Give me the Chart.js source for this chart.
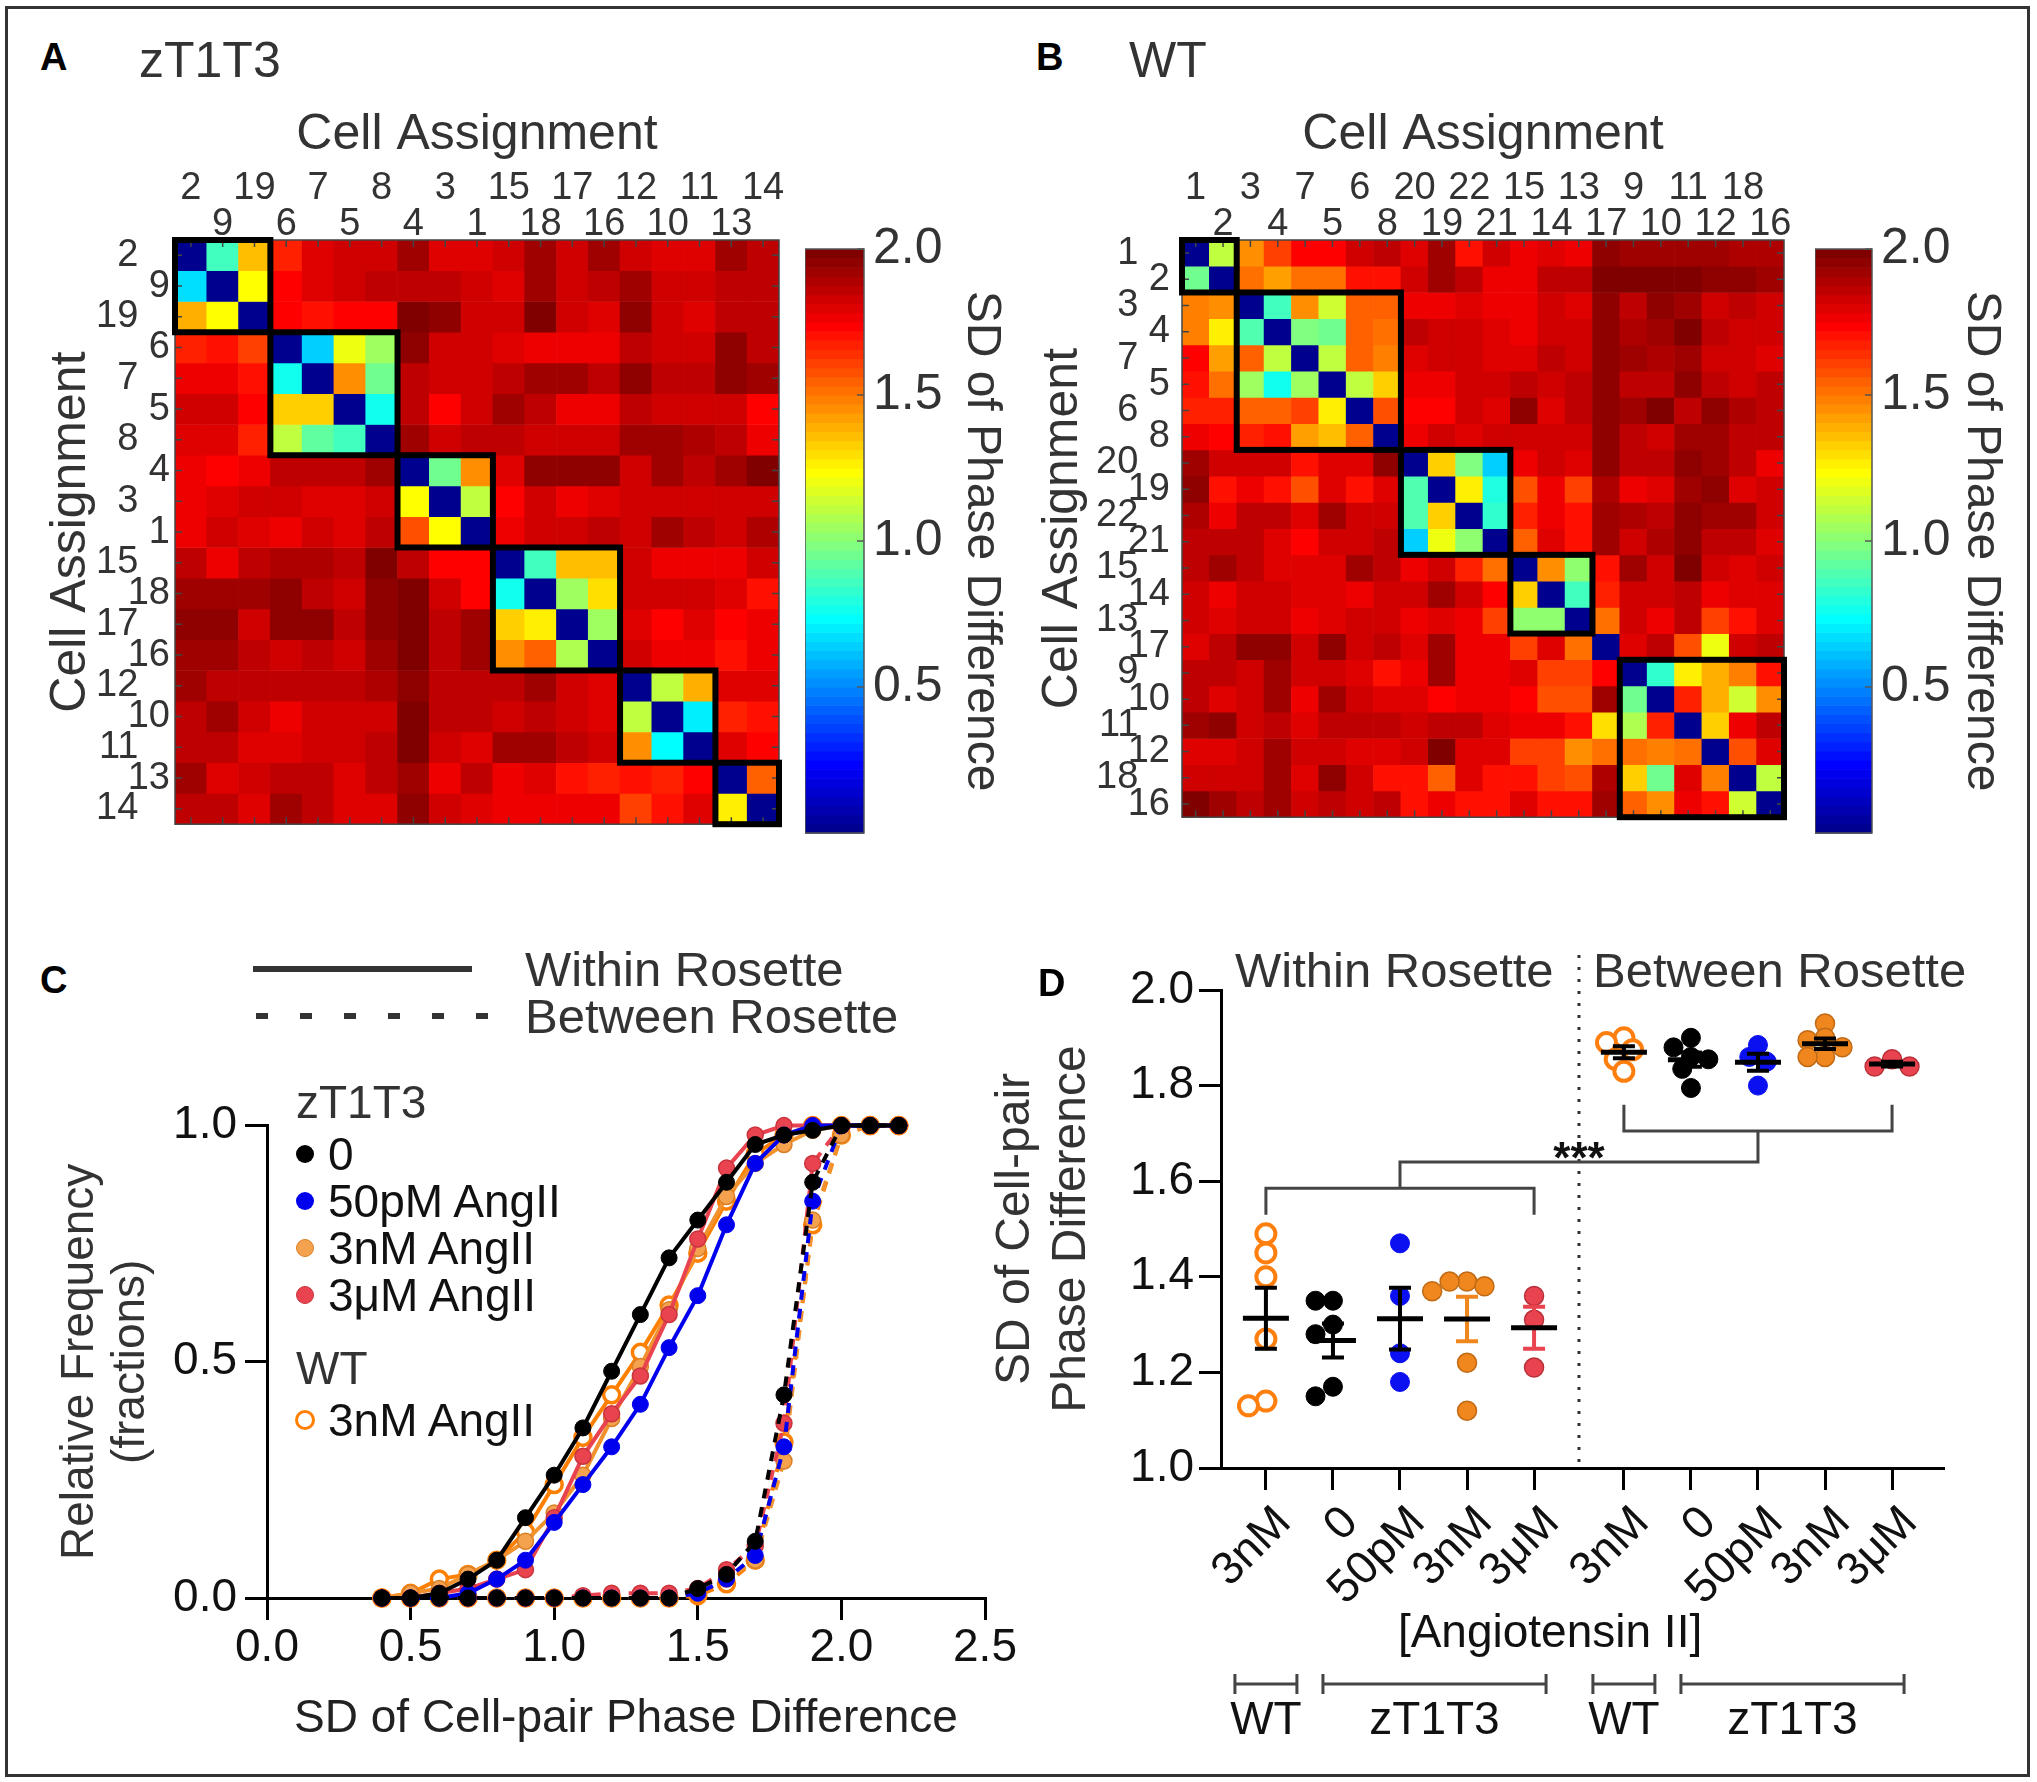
<!DOCTYPE html>
<html>
<head>
<meta charset="utf-8">
<title>SD of phase difference</title>
<script src="https://cdn.jsdelivr.net/npm/chart.js@4.4.1/dist/chart.umd.min.js"></script>
<style>
  html, body { margin: 0; padding: 0; background: #fff; }
  body { position: relative; width: 2037px; height: 1782px; overflow: hidden;
         font-family: "Liberation Sans", Arial, sans-serif; color: #2b2b2b; }
  #frame { position: absolute; left: 5px; top: 6px; width: 2019px; height: 1765px; border: 3px solid #333; }
  canvas { position: absolute; }
  .t { position: absolute; white-space: nowrap; line-height: 1; transform: translateY(-50%); }
  .b { font-weight: bold; color: #000; }
</style>
</head>
<body>
<div id="frame"></div>
<script>
// ---------------- data ----------------
// panel A, zT1T3 : cell order and SD matrix (rows = cells, top to bottom)
const cellsA = ['2','9','19','6','7','5','8','4','3','1','15','18','17','16','12','10','11','13','14'];
const blocksA = [3, 4, 3, 4, 3, 2];
const sdA = [
  [0.03,0.85,1.35,1.66,1.79,1.82,1.84,1.92,1.79,1.79,1.82,1.92,1.84,1.91,1.82,1.79,1.79,1.92,1.86],
  [0.66,0.03,1.22,1.72,1.80,1.84,1.87,1.86,1.86,1.83,1.79,1.92,1.84,1.87,1.92,1.83,1.84,1.87,1.86],
  [1.39,1.22,0.03,1.72,1.69,1.72,1.72,2.00,1.94,1.84,1.83,1.97,1.84,1.80,1.94,1.83,1.79,1.86,1.86],
  [1.66,1.69,1.62,0.03,0.65,1.20,1.06,1.94,1.83,1.84,1.80,1.77,1.77,1.77,1.86,1.83,1.84,1.94,1.87],
  [1.75,1.75,1.69,0.78,0.03,1.44,0.94,1.86,1.83,1.84,1.87,1.92,1.92,1.87,1.94,1.87,1.86,1.94,1.92],
  [1.83,1.83,1.72,1.32,1.32,0.03,0.78,1.87,1.72,1.84,1.92,1.87,1.75,1.75,1.86,1.84,1.83,1.84,1.72],
  [1.79,1.79,1.66,1.12,0.93,0.85,0.03,1.92,1.83,1.87,1.87,1.83,1.84,1.84,1.93,1.93,1.90,1.86,1.75],
  [1.77,1.72,1.77,1.87,1.87,1.86,1.92,0.03,0.94,1.44,1.79,1.94,1.94,1.94,1.83,1.93,1.87,1.92,1.97],
  [1.77,1.80,1.83,1.83,1.80,1.79,1.84,1.22,0.03,1.12,1.72,1.84,1.75,1.79,1.84,1.83,1.83,1.84,1.84],
  [1.77,1.83,1.79,1.77,1.84,1.79,1.86,1.59,1.22,0.03,1.75,1.83,1.84,1.87,1.84,1.92,1.87,1.83,1.90],
  [1.86,1.77,1.86,1.90,1.90,1.87,1.97,1.87,1.72,1.72,0.03,0.87,1.37,1.35,1.83,1.75,1.75,1.77,1.83],
  [1.92,1.92,1.92,1.94,1.86,1.84,1.94,1.97,1.84,1.72,0.78,0.03,1.06,1.30,1.84,1.83,1.83,1.79,1.69],
  [1.94,1.94,1.83,1.94,1.94,1.86,1.94,1.99,1.86,1.92,1.33,1.27,0.03,1.06,1.79,1.72,1.80,1.72,1.75],
  [1.92,1.92,1.87,1.84,1.87,1.84,1.92,1.97,1.87,1.92,1.44,1.56,1.09,0.03,1.84,1.75,1.77,1.69,1.75],
  [1.92,1.87,1.87,1.86,1.86,1.87,1.90,1.94,1.87,1.86,1.86,1.93,1.84,1.80,0.03,1.12,1.39,1.79,1.79],
  [1.86,1.93,1.84,1.77,1.83,1.84,1.84,1.97,1.86,1.86,1.84,1.86,1.83,1.80,1.12,0.03,0.70,1.66,1.69],
  [1.86,1.86,1.80,1.80,1.83,1.84,1.86,1.97,1.83,1.80,1.92,1.92,1.87,1.83,1.44,0.72,0.03,1.79,1.72],
  [1.92,1.80,1.84,1.86,1.87,1.80,1.86,1.92,1.77,1.86,1.77,1.79,1.69,1.66,1.69,1.66,1.72,0.03,1.56],
  [1.86,1.86,1.80,1.92,1.87,1.80,1.80,1.94,1.83,1.79,1.77,1.75,1.75,1.75,1.62,1.69,1.79,1.27,0.03]
];

// panel B, WT
const cellsB = ['1','2','3','4','7','5','6','8','20','19','22','21','15','14','13','17','9','10','11','12','18','16'];
const blocksB = [2, 6, 4, 3, 1, 6];
const sdB = [
  [0.03,1.10,1.44,1.62,1.72,1.72,1.84,1.87,1.80,1.92,1.69,1.84,1.77,1.79,1.75,1.94,1.92,1.92,1.92,1.92,1.90,1.90],
  [0.94,0.03,1.53,1.41,1.53,1.50,1.69,1.69,1.83,1.92,1.87,1.77,1.75,1.87,1.87,1.97,1.97,1.97,1.97,1.94,1.94,1.93],
  [1.47,1.44,0.03,0.87,1.44,1.15,1.56,1.56,1.77,1.77,1.80,1.75,1.75,1.83,1.79,1.94,1.86,1.94,1.92,1.84,1.87,1.84],
  [1.47,1.25,0.90,0.03,0.97,0.94,1.56,1.53,1.87,1.84,1.83,1.79,1.75,1.83,1.83,1.94,1.90,1.92,1.99,1.86,1.84,1.84],
  [1.72,1.41,1.56,1.12,0.03,1.12,1.56,1.47,1.80,1.83,1.83,1.79,1.80,1.86,1.83,1.94,1.93,1.90,1.93,1.84,1.84,1.80],
  [1.69,1.50,1.06,0.78,1.06,0.03,1.12,1.33,1.77,1.77,1.84,1.84,1.87,1.84,1.86,1.94,1.87,1.86,1.94,1.87,1.83,1.86],
  [1.66,1.66,1.56,1.56,1.62,1.27,0.03,1.59,1.72,1.72,1.84,1.80,1.94,1.80,1.86,1.94,1.92,1.97,1.87,1.94,1.90,1.86],
  [1.77,1.72,1.66,1.69,1.41,1.37,1.56,0.03,1.75,1.84,1.80,1.83,1.84,1.84,1.84,1.94,1.86,1.84,1.93,1.92,1.86,1.86],
  [1.92,1.84,1.84,1.83,1.69,1.80,1.80,1.94,0.03,1.33,0.97,0.63,1.75,1.84,1.80,1.94,1.86,1.86,1.94,1.93,1.86,1.75],
  [1.94,1.69,1.75,1.69,1.59,1.80,1.69,1.79,0.90,0.03,1.27,0.81,1.59,1.75,1.62,1.90,1.75,1.80,1.93,1.94,1.79,1.83],
  [1.90,1.75,1.87,1.87,1.79,1.92,1.84,1.84,0.90,1.33,0.03,0.84,1.66,1.75,1.69,1.92,1.90,1.87,1.94,1.92,1.92,1.84],
  [1.87,1.87,1.87,1.80,1.72,1.84,1.84,1.86,0.63,1.20,1.00,0.03,1.56,1.79,1.69,1.92,1.83,1.90,1.94,1.87,1.87,1.80],
  [1.87,1.92,1.87,1.80,1.80,1.80,1.92,1.87,1.75,1.83,1.66,1.53,0.03,1.44,1.00,1.69,1.93,1.84,1.99,1.84,1.79,1.84],
  [1.84,1.75,1.84,1.84,1.79,1.80,1.77,1.84,1.83,1.92,1.83,1.72,1.32,0.03,0.87,1.66,1.84,1.83,1.87,1.77,1.79,1.80],
  [1.84,1.79,1.83,1.83,1.75,1.80,1.84,1.84,1.75,1.80,1.75,1.62,1.03,1.03,0.03,1.50,1.84,1.75,1.87,1.62,1.69,1.80],
  [1.80,1.86,1.94,1.94,1.83,1.94,1.84,1.87,1.80,1.92,1.77,1.75,1.62,1.79,1.53,0.03,1.80,1.86,1.59,1.20,1.84,1.86],
  [1.87,1.87,1.84,1.93,1.83,1.84,1.79,1.69,1.75,1.92,1.75,1.77,1.79,1.62,1.62,1.72,0.03,0.84,1.27,1.39,1.47,1.69],
  [1.86,1.79,1.84,1.92,1.75,1.92,1.84,1.79,1.79,1.72,1.75,1.77,1.72,1.59,1.59,1.92,0.94,0.03,1.66,1.39,1.15,1.44],
  [1.92,1.94,1.84,1.87,1.79,1.86,1.87,1.87,1.84,1.86,1.86,1.80,1.75,1.75,1.69,1.30,1.09,1.66,0.03,1.33,1.75,1.87],
  [1.80,1.80,1.84,1.92,1.84,1.84,1.79,1.79,1.83,1.97,1.80,1.79,1.62,1.62,1.44,1.53,1.50,1.47,1.50,0.03,1.59,1.79],
  [1.83,1.83,1.84,1.92,1.80,1.94,1.84,1.69,1.69,1.56,1.79,1.69,1.69,1.62,1.59,1.90,1.32,0.94,1.79,1.47,0.03,1.12],
  [1.97,1.93,1.86,1.92,1.84,1.87,1.84,1.87,1.69,1.75,1.69,1.69,1.79,1.69,1.69,1.92,1.56,1.44,1.75,1.69,1.15,0.03]
];
const colorbarTicks = [0.5, 1.0, 1.5, 2.0];

// panel C : cumulative relative frequency
const sdBins = [0.4,0.5,0.6,0.7,0.8,0.9,1.0,1.1,1.2,1.3,1.4,1.5,1.6,1.7,1.8,1.9,2.0,2.1,2.2];
const within0    = [0,0,0.01,0.04,0.08,0.17,0.26,0.36,0.48,0.60,0.72,0.80,0.88,0.96,0.98,0.99,1,1,1];
const within50pM = [0,0,0,0.01,0.04,0.08,0.16,0.24,0.32,0.41,0.53,0.64,0.79,0.92,0.98,1,1,1,1];
const within3nM  = [0,0.01,0.02,0.05,0.08,0.12,0.18,0.26,0.38,0.49,0.61,0.74,0.85,0.92,0.96,0.99,1,1,1];
const within3uM  = [0,0,0.01,0.02,0.04,0.06,0.17,0.30,0.39,0.47,0.60,0.76,0.91,0.98,1,1,1,1,1];
const withinWT   = [0,0.01,0.04,0.05,0.08,0.14,0.24,0.34,0.43,0.52,0.62,0.73,0.84,0.94,0.98,1,1,1,1];
const between0    = [0,0,0,0,0,0,0,0,0,0,0,0.02,0.05,0.12,0.43,0.88,1,1,1];
const between50pM = [0,0,0,0,0,0,0,0,0,0,0,0.01,0.04,0.09,0.32,0.84,1,1,1];
const between3nM  = [0,0,0,0,0,0,0,0,0,0,0,0.01,0.04,0.08,0.29,0.80,0.98,1,1];
const between3uM  = [0,0,0,0,0,0,0,0.005,0.01,0.01,0.01,0.02,0.06,0.11,0.37,0.92,1,1,1];
const betweenWT   = [0,0,0,0,0,0,0,0,0,0,0,0.005,0.03,0.08,0.33,0.79,0.98,1,1];

// panel D : per-rosette SD, within then between
const doseLabels   = ['3nM','0','50pM','3nM','3μM','3nM','0','50pM','3nM','3μM'];
const strainLabels = ['WT','zT1T3','zT1T3','zT1T3','zT1T3','WT','zT1T3','zT1T3','zT1T3','zT1T3'];
const dotsD = [
  [1.49,1.45,1.40,1.27,1.13,1.14],
  [1.35,1.35,1.30,1.28,1.17,1.15],
  [1.47,1.36,1.24,1.18],
  [1.39,1.39,1.38,1.37,1.22,1.12],
  [1.36,1.31,1.21],
  [1.90,1.89,1.875,1.855,1.83],
  [1.90,1.88,1.86,1.855,1.835,1.795],
  [1.885,1.86,1.85,1.80],
  [1.93,1.90,1.895,1.88,1.86,1.86],
  [1.855,1.84,1.84]
];
const bracketLevels = { betweenLeg: 1.76, betweenBar: 1.705, link: 1.64, withinBar: 1.585, withinLeg: 1.53, stars: 1.668 };

// ---------------- helpers ----------------
Chart.defaults.font.family = '"Liberation Sans", Arial, sans-serif';
Chart.defaults.color = '#2b2b2b';
Chart.defaults.animation = false;
Chart.defaults.responsive = false;
Chart.defaults.devicePixelRatio = 1;
Chart.defaults.plugins.legend.display = false;
Chart.defaults.plugins.tooltip.enabled = false;

function place(left, top, w, h) {
  const c = document.createElement('canvas');
  c.width = w; c.height = h;
  c.style.left = left + 'px'; c.style.top = top + 'px';
  document.body.appendChild(c);
  return c;
}
function txt(s, x, y, size, o) {
  o = o || {};
  const d = document.createElement('div');
  d.className = 't' + (o.bold ? ' b' : '');
  d.textContent = s;
  d.style.left = x + 'px'; d.style.top = y + 'px'; d.style.fontSize = size + 'px';
  if (o.color) d.style.color = o.color;
  document.body.appendChild(d);
  return d;
}
function box(x, y, w, h, css) {
  const d = document.createElement('div');
  d.style.cssText = `position:absolute;left:${x}px;top:${y}px;width:${w}px;height:${h}px;` + (css || '');
  document.body.appendChild(d);
  return d;
}
// matlab-like 64 level jet, range 0..2
function jet(v) {
  const k = Math.max(0, Math.min(63, Math.floor(v / 2 * 64)));
  const t = (k + 1) / 64;
  const c = f => Math.round(255 * Math.max(0, Math.min(1, 1.5 - Math.abs(4 * t - f))));
  return `rgb(${c(3)},${c(2)},${c(1)})`;
}
const mean = a => a.reduce((s, v) => s + v, 0) / a.length;
const sem = a => { const m = mean(a); return Math.sqrt(a.reduce((s, v) => s + (v - m) ** 2, 0) / (a.length - 1) / a.length); };

// ---------------- heatmaps ----------------
const heatDecor = {
  id: 'heatDecor',
  afterDatasetsDraw(chart, args, opts) {
    const { ctx, chartArea: a, scales: { x, y } } = chart;
    const n = opts.blocks.reduce((s, b) => s + b, 0);
    const cw = a.width / n;
    ctx.save();
    ctx.strokeStyle = '#444';
    ctx.lineWidth = 1.5;
    ctx.beginPath();
    for (let i = 0; i < n; i++) {
      const px = x.getPixelForValue(i), py = y.getPixelForValue(i + 0.5);
      ctx.moveTo(px, a.top); ctx.lineTo(px, a.top + 7);
      ctx.moveTo(px, a.bottom); ctx.lineTo(px, a.bottom - 7);
      ctx.moveTo(a.left, py); ctx.lineTo(a.left + 7, py);
      ctx.moveTo(a.right, py); ctx.lineTo(a.right - 7, py);
    }
    ctx.stroke();
    ctx.strokeRect(a.left, a.top, a.width, a.height);
    ctx.strokeStyle = '#000';
    ctx.lineWidth = 6;
    let s = 0;
    for (const b of opts.blocks) {
      if (b > 1) {
        const x0 = x.getPixelForValue(s) - cw / 2, y0 = y.getPixelForValue(s);
        ctx.strokeRect(x0, y0, cw * b, y.getPixelForValue(s + b) - y0);
      }
      s += b;
    }
    ctx.restore();
  }
};

function heatmap(canvas, cells, sd, blocks, g) {
  const n = cells.length;
  return new Chart(canvas, {
    type: 'bar',
    data: {
      labels: cells,
      datasets: sd.map((row, i) => ({
        data: row.map(() => [i, i + 1]),
        backgroundColor: row.map(jet),
        borderWidth: 0, grouped: false, barPercentage: 1, categoryPercentage: 1
      }))
    },
    options: {
      layout: { padding: { top: 0, left: 0, right: 10, bottom: 10 } },
      plugins: { heatDecor: { blocks } },
      scales: {
        x: {
          position: 'top',
          grid: { display: false, drawTicks: false }, border: { display: false },
          ticks: { autoSkip: false, maxRotation: 0, minRotation: 0, padding: -3, color: '#333',
                   font: { size: 38, lineHeight: 0.95 },
                   callback: (v, i) => (i % 2 === 0 ? [cells[i], ''] : ['', cells[i]]) },
          title: { display: true, text: 'Cell Assignment', color: '#333', font: { size: 50 }, padding: { top: 5, bottom: 0 } },
          afterFit: s => { s.height = g.top; }
        },
        y: {
          min: 0, max: n, reverse: true,
          grid: { display: false, drawTicks: false }, border: { display: false },
          afterBuildTicks: s => { s.ticks = cells.map((c, i) => ({ value: i + 0.5 })); },
          ticks: { autoSkip: false, padding: g.pad, color: '#333', font: { size: 38 },
                   callback: (v, i) => (i % 2 === 0 ? cells[i] + '   ' : cells[i]) },
          title: { display: true, text: 'Cell Assignment', color: '#333', font: { size: 50 }, padding: { top: g.tpad, bottom: 0 } },
          afterFit: s => { s.width = g.left; }
        }
      }
    },
    plugins: [heatDecor]
  });
}

const colorbarFill = {
  id: 'colorbarFill',
  beforeDatasetsDraw(chart) {
    const { ctx, chartArea: a, scales: { y } } = chart;
    ctx.save();
    for (let k = 0; k < 64; k++) {
      const p0 = y.getPixelForValue(k * 2 / 64), p1 = y.getPixelForValue((k + 1) * 2 / 64);
      ctx.fillStyle = jet(k * 2 / 64);
      ctx.fillRect(a.left, p1, a.width, p0 - p1 + 0.6);
    }
    ctx.strokeStyle = '#555';
    ctx.lineWidth = 1.5;
    ctx.strokeRect(a.left, a.top, a.width, a.height);
    ctx.beginPath();
    colorbarTicks.forEach(v => { const p = y.getPixelForValue(v); ctx.moveTo(a.right, p); ctx.lineTo(a.right - 7, p); });
    ctx.stroke();
    ctx.restore();
  }
};

function colorbar(canvas, axisWidth) {
  return new Chart(canvas, {
    type: 'scatter',
    data: { datasets: [] },
    options: {
      layout: { padding: { top: 30, bottom: 30, left: 0, right: 0 } },
      scales: {
        x: { display: false },
        y: {
          position: 'right', min: 0, max: 2,
          grid: { display: false, drawTicks: false }, border: { display: false },
          afterBuildTicks: s => { s.ticks = colorbarTicks.map(v => ({ value: v })); },
          ticks: { padding: 9, color: '#333', font: { size: 50 }, callback: v => v.toFixed(1) },
          title: { display: true, text: 'SD of Phase Difference', color: '#333', font: { size: 48 }, padding: 0 },
          afterFit: s => { s.width = axisWidth; }
        }
      }
    },
    plugins: [colorbarFill]
  });
}

heatmap(place(40, 100, 749, 752), cellsA, sdA, blocksA, { top: 140, left: 135, pad: 5, tpad: 1 });
heatmap(place(1030, 100, 764, 752), cellsB, sdB, blocksB, { top: 140, left: 152, pad: 12, tpad: 3 });
colorbar(place(805, 210, 205, 662), 146);
colorbar(place(1815, 210, 195, 662), 138);

txt('A', 40, 57, 38, { bold: true });
txt('zT1T3', 139, 60, 50, { color: '#333' });
txt('B', 1036, 57, 38, { bold: true });
txt('WT', 1129, 60, 50, { color: '#333' });

// ---------------- panel C ----------------
const styleC = {
  k: { line: '#000000', fill: '#000000', edge: '#000000', bw: 1 },
  b: { line: '#0000ee', fill: '#0000ee', edge: '#0000ee', bw: 1 },
  o: { line: '#f2922e', fill: '#f5a24e', edge: '#d98027', bw: 1.5 },
  r: { line: '#e8434e', fill: '#e8434e', edge: '#c9343e', bw: 1.5 },
  w: { line: '#ff7f00', fill: '#ffffff', edge: '#ff7f00', bw: 3.5 }
};
function lineSet(vals, st, dashed) {
  return {
    data: sdBins.map((x, i) => ({ x, y: vals[i] })),
    borderColor: st.line, borderWidth: 4, borderDash: dashed ? [10, 9] : [],
    pointRadius: 8, pointBackgroundColor: st.fill, pointBorderColor: st.edge, pointBorderWidth: st.bw,
    clip: false, tension: 0, fill: false
  };
}
const axisC = { color: '#000', lineWidth: 3, tickWidth: 3, tickColor: '#000', tickLength: 22, drawOnChartArea: false };
new Chart(place(50, 1090, 975, 657), {
  type: 'line',
  data: {
    datasets: [
      lineSet(within0, styleC.k, false), lineSet(between0, styleC.k, true),
      lineSet(within50pM, styleC.b, false), lineSet(between50pM, styleC.b, true),
      lineSet(within3uM, styleC.r, false), lineSet(between3uM, styleC.r, true),
      lineSet(within3nM, styleC.o, false), lineSet(between3nM, styleC.o, true),
      lineSet(withinWT, styleC.w, false), lineSet(betweenWT, styleC.w, true)
    ]
  },
  options: {
    layout: { padding: { top: 30, right: 40, left: 0, bottom: 0 } },
    scales: {
      x: {
        type: 'linear', min: 0, max: 2.5,
        grid: axisC, border: { color: '#000', width: 3 },
        ticks: { stepSize: 0.5, padding: 1, color: '#111', font: { size: 46 }, callback: v => v.toFixed(1) },
        title: { display: true, text: 'SD of Cell-pair Phase Difference', color: '#222', font: { size: 46 }, padding: { top: 0, bottom: 0 } },
        afterFit: s => { s.height = 149; }
      },
      y: {
        min: 0, max: 1,
        grid: axisC, border: { color: '#000', width: 3 },
        ticks: { stepSize: 0.5, padding: 8, color: '#111', font: { size: 46 }, callback: v => v.toFixed(1) },
        title: { display: true, text: ['Relative Frequency', '(fractions)'], color: '#333', font: { size: 46, lineHeight: 1.1 }, padding: { top: 5, bottom: 0 } },
        afterFit: s => { s.width = 217; }
      }
    }
  }
});

txt('C', 40, 980, 38, { bold: true });
box(253, 966, 219, 6, 'background:#333;');
box(256, 1013, 232, 6, 'background:repeating-linear-gradient(90deg,#333 0 12px,transparent 12px 44px);');
txt('Within Rosette', 525, 969, 49, { color: '#333' });
txt('Between Rosette', 525, 1016, 49, { color: '#333' });
txt('zT1T3', 296, 1102, 46, { color: '#333' });
const legC = [
  ['0', 1154, 'background:#000;'],
  ['50pM AngII', 1201, 'background:#0000ee;'],
  ['3nM AngII', 1248, 'background:#f5a24e;border:1.5px solid #d98027;'],
  ['3μM AngII', 1295, 'background:#e8434e;border:1.5px solid #c9343e;']
];
legC.forEach(([s, y, css]) => { box(305, y, 18, 18, css + 'border-radius:50%;box-sizing:border-box;transform:translate(-50%,-50%);'); txt(s, 328, y, 46, { color: '#111' }); });
txt('WT', 296, 1368, 46, { color: '#333' });
box(305, 1420, 20, 20, 'border:3.5px solid #ff7f00;background:#fff;border-radius:50%;box-sizing:border-box;transform:translate(-50%,-50%);');
txt('3nM AngII', 328, 1420, 46, { color: '#111' });

// ---------------- panel D ----------------
const GAP = 0.34;
const dosePos = i => i + 1 + (i >= 5 ? GAP : 0);
const styleD = [
  { fill: '#ffffff', edge: '#ff7f0e', bw: 4 },
  { fill: '#000000', edge: '#000000', bw: 1 },
  { fill: '#0a10f0', edge: '#0a10f0', bw: 1 },
  { fill: '#f0861e', edge: '#c06a14', bw: 1.5 },
  { fill: '#e8434e', edge: '#b8303a', bw: 1.5 }
];
const semColor = ['#000', '#000', '#000', '#f0861e', '#e8434e', '#000', '#000', '#000', '#000', '#000'];

// simple beeswarm (dots may overlap a little): x px per unit ~67, y px per unit ~478
function swarm(vals, center) {
  const placed = [];
  const steps = [0, -1, 1, -2, 2, -3, 3, -4, 4];
  [...vals].sort((a, b) => b - a).forEach(v => {
    let pos = center;
    for (const s of steps) {
      const cx = center + s * 0.13;
      if (placed.every(p => Math.hypot((p.x - cx) * 67, (p.y - v) * 478) >= 13)) { pos = cx; break; }
    }
    placed.push({ x: pos, y: v });
  });
  return placed;
}

const dotDecor = {
  id: 'dotDecor',
  afterDatasetsDraw(chart) {
    const { ctx, chartArea: a, scales: { x, y } } = chart;
    ctx.save();
    ctx.lineCap = 'butt';
    dotsD.forEach((vals, i) => {
      const m = mean(vals), e = sem(vals);
      const cx = x.getPixelForValue(dosePos(i));
      ctx.strokeStyle = semColor[i];
      ctx.lineWidth = 4;
      ctx.beginPath();
      ctx.moveTo(cx, y.getPixelForValue(m - e)); ctx.lineTo(cx, y.getPixelForValue(m + e));
      [m - e, m + e].forEach(v => { const p = y.getPixelForValue(v); ctx.moveTo(cx - 11, p); ctx.lineTo(cx + 11, p); });
      ctx.stroke();
      ctx.strokeStyle = '#000';
      ctx.lineWidth = 5;
      const pm = y.getPixelForValue(m);
      ctx.beginPath(); ctx.moveTo(cx - 23, pm); ctx.lineTo(cx + 23, pm); ctx.stroke();
    });
    // separator
    const sx = x.getPixelForValue((dosePos(4) + dosePos(5)) / 2);
    ctx.strokeStyle = '#333';
    ctx.lineWidth = 3;
    ctx.setLineDash([3, 9]);
    ctx.beginPath(); ctx.moveTo(sx, a.top - 35); ctx.lineTo(sx, a.bottom); ctx.stroke();
    ctx.setLineDash([]);
    // significance brackets
    const L = bracketLevels, px = i => x.getPixelForValue(dosePos(i)), py = v => y.getPixelForValue(v);
    ctx.strokeStyle = '#444';
    ctx.beginPath();
    ctx.moveTo(px(5), py(L.betweenLeg)); ctx.lineTo(px(5), py(L.betweenBar)); ctx.lineTo(px(9), py(L.betweenBar)); ctx.lineTo(px(9), py(L.betweenLeg));
    ctx.moveTo(px(7), py(L.betweenBar)); ctx.lineTo(px(7), py(L.link)); ctx.lineTo(px(2), py(L.link)); ctx.lineTo(px(2), py(L.withinBar));
    ctx.moveTo(px(0), py(L.withinLeg)); ctx.lineTo(px(0), py(L.withinBar)); ctx.lineTo(px(4), py(L.withinBar)); ctx.lineTo(px(4), py(L.withinLeg));
    ctx.stroke();
    ctx.fillStyle = '#111';
    ctx.font = 'bold 44px "Liberation Sans", Arial, sans-serif';
    ctx.textAlign = 'center';
    ctx.textBaseline = 'alphabetic';
    ctx.fillText('***', sx, py(L.stars) + 24);
    // strain brackets under the axis
    const yb = a.bottom + 216, yl = a.bottom + 253;
    ctx.font = '46px "Liberation Sans", Arial, sans-serif';
    ctx.textBaseline = 'middle';
    let i = 0;
    while (i < strainLabels.length) {
      let j = i;
      while (j + 1 < strainLabels.length && strainLabels[j + 1] === strainLabels[i] && (j + 1 !== 5)) j++;
      const x0 = i === j ? px(i) - 31 : px(i) - 10, x1 = i === j ? px(j) + 31 : px(j) + 12;
      ctx.beginPath();
      ctx.moveTo(x0, yb); ctx.lineTo(x1, yb);
      ctx.moveTo(x0, yb - 10); ctx.lineTo(x0, yb + 10);
      ctx.moveTo(x1, yb - 10); ctx.lineTo(x1, yb + 10);
      ctx.stroke();
      ctx.fillText(strainLabels[i], (x0 + x1) / 2, yl);
      i = j + 1;
    }
    ctx.restore();
  }
};

const axisD = { color: '#000', lineWidth: 3, tickWidth: 3, tickColor: '#000', tickLength: 22, drawOnChartArea: false };
new Chart(place(985, 940, 998, 820), {
  type: 'scatter',
  data: {
    datasets: dotsD.map((vals, i) => {
      const st = styleD[i % 5];
      return { data: swarm(vals, dosePos(i)), pointRadius: 9.5, backgroundColor: st.fill, borderColor: st.edge, borderWidth: st.bw, clip: false };
    })
  },
  options: {
    layout: { padding: { top: 50, right: 40, left: 0, bottom: 0 } },
    scales: {
      x: {
        type: 'linear', min: 0.33, max: 11.1,
        grid: axisD, border: { color: '#000', width: 3 },
        afterBuildTicks: s => { s.ticks = doseLabels.map((l, i) => ({ value: dosePos(i) })); },
        ticks: { autoSkip: false, minRotation: 45, maxRotation: 45, padding: 6, labelOffset: 18, color: '#111', font: { size: 46 },
                 callback: (v, i) => doseLabels[i] },
        title: { display: true, text: '[Angiotensin II]     ', color: '#111', font: { size: 46 }, padding: { top: 0, bottom: 98 } },
        afterFit: s => { s.height = 292; }
      },
      y: {
        min: 1, max: 2,
        grid: axisD, border: { color: '#000', width: 3 },
        ticks: { stepSize: 0.2, padding: 5, color: '#111', font: { size: 46 }, callback: v => v.toFixed(1) },
        title: { display: true, text: ['SD of Cell-pair', 'Phase Difference'], color: '#333', font: { size: 48, lineHeight: 1.17 }, padding: { top: 3, bottom: 0 } },
        afterFit: s => { s.width = 236; }
      }
    }
  },
  plugins: [dotDecor]
});

txt('D', 1038, 983, 38, { bold: true });
txt('Within Rosette', 1235, 970, 49, { color: '#333' });
txt('Between Rosette', 1593, 970, 49, { color: '#333' });
</script>
</body>
</html>
